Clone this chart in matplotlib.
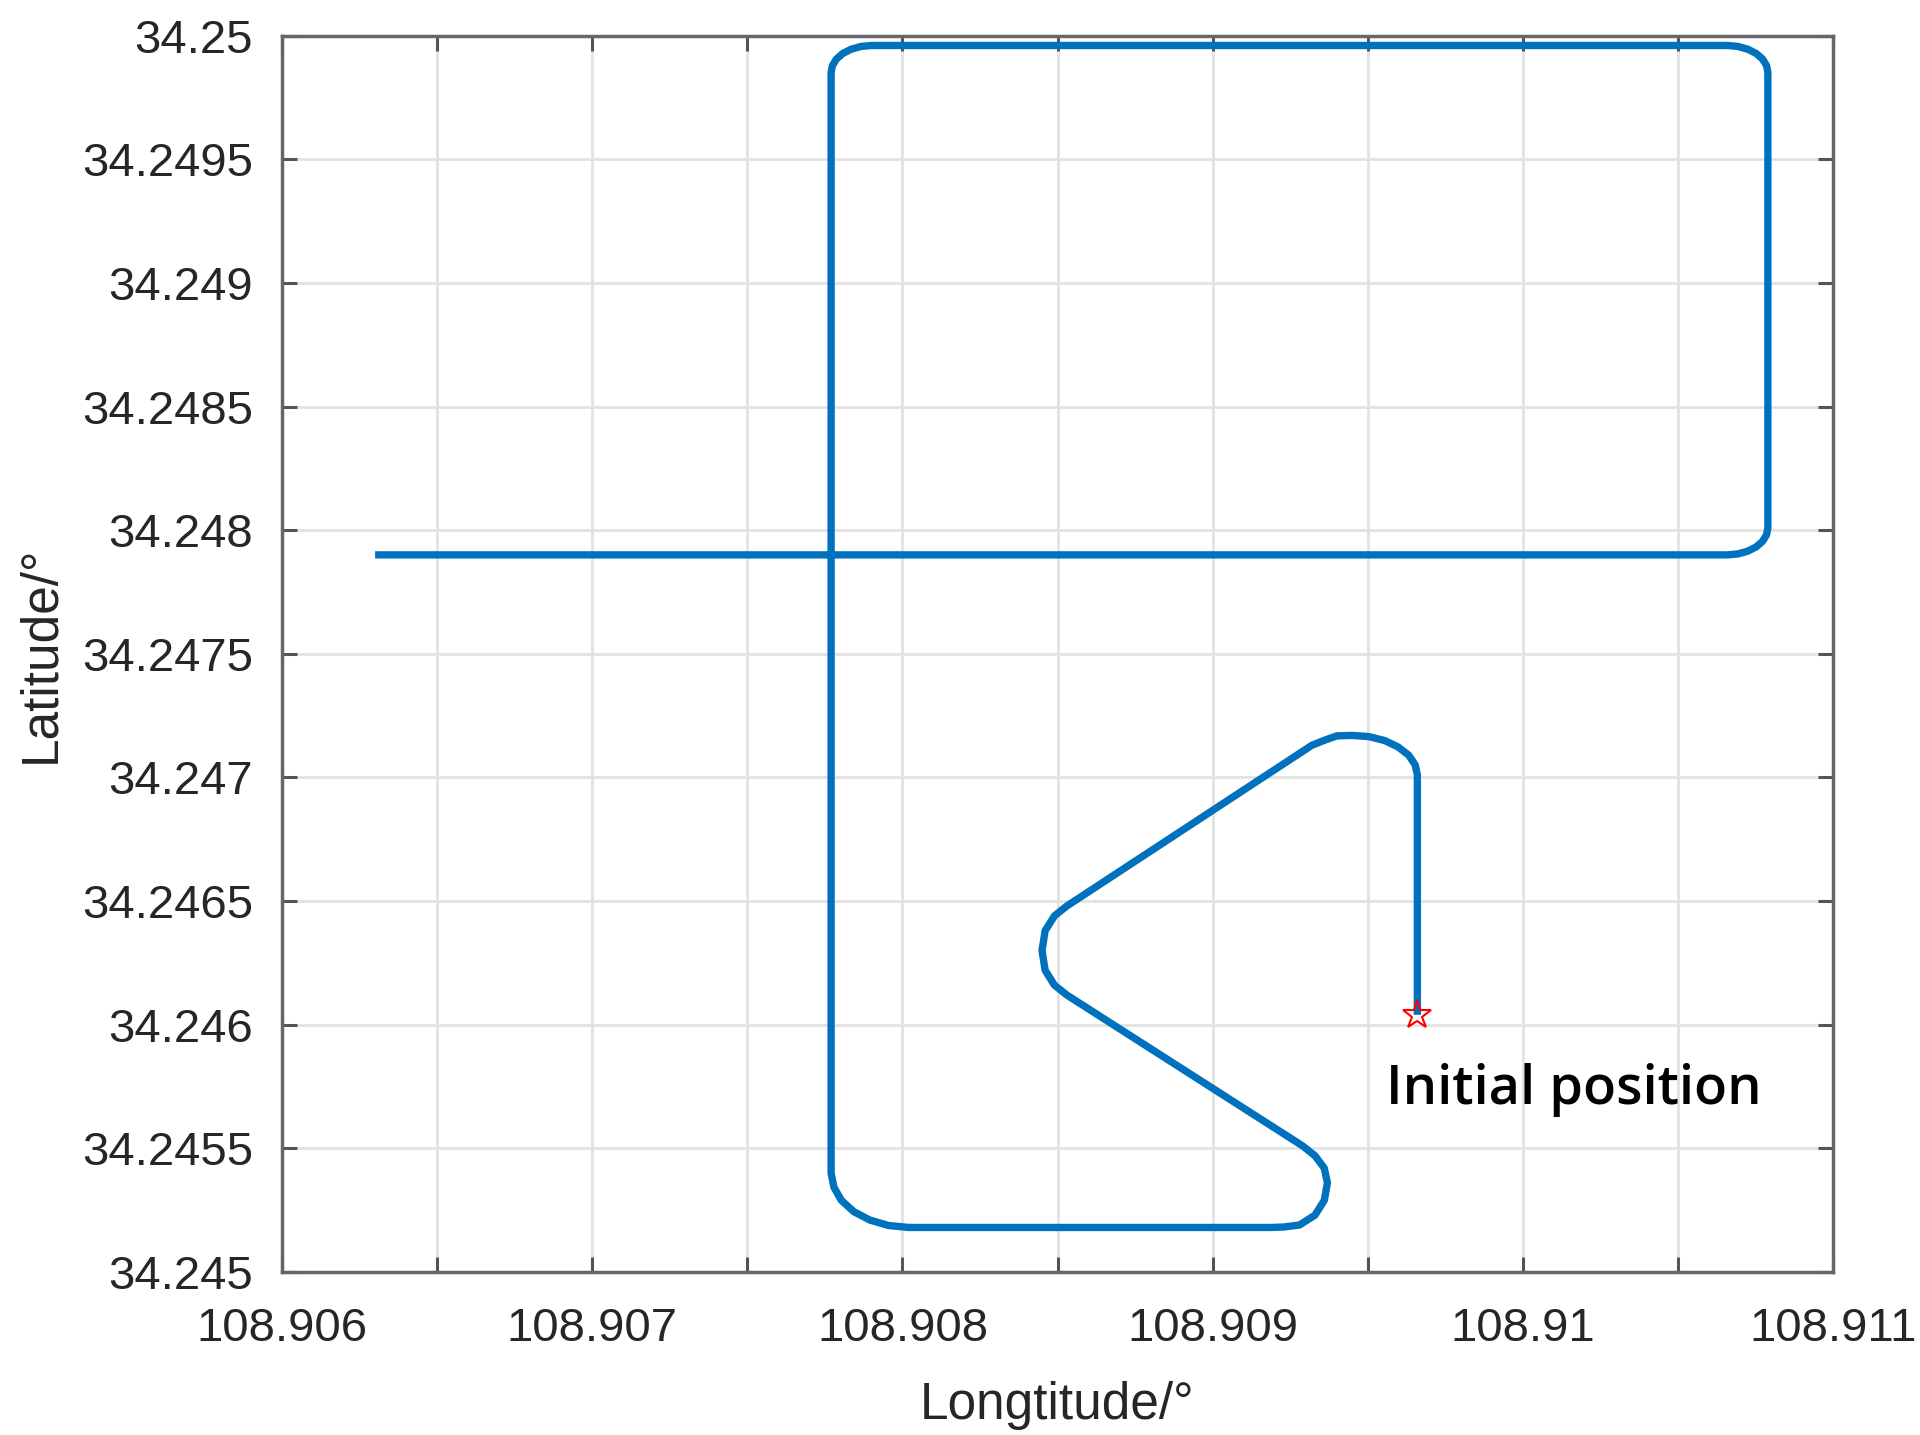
import numpy as np
import matplotlib
matplotlib.use("Agg")
import matplotlib.pyplot as plt
from matplotlib import font_manager

# trajectory (lon, lat in degrees)
lon = [108.90966, 108.90966, 108.909653, 108.909632, 108.909598, 108.909555, 108.909504, 108.90945,
       108.90940, 108.90936, 108.90932,
       108.90853, 108.90849, 108.90846, 108.90845, 108.90846, 108.90849, 108.90853,
       108.90929, 108.90933, 108.90936, 108.90937, 108.90936, 108.90933, 108.90928, 108.90923, 108.90919,
       108.90802, 108.907955, 108.907895, 108.907843, 108.907803, 108.907779, 108.90777,
       108.90777, 108.907774, 108.907787, 108.907808, 108.907835, 108.907866, 108.90790,
       108.91066, 108.910694, 108.910725, 108.910752, 108.910773, 108.910786, 108.91079,
       108.91079, 108.910786, 108.910773, 108.910752, 108.910725, 108.910694, 108.91066,
       108.90630]
lat = [34.24604, 34.24701, 34.247051, 34.24709, 34.247123, 34.247149, 34.247165, 34.24717,
       34.247168, 34.24715, 34.24713,
       34.24648, 34.24644, 34.24638, 34.24630, 34.24622, 34.24616, 34.24612,
       34.24551, 34.24547, 34.24542, 34.24536, 34.24529, 34.24523, 34.24519, 34.245182, 34.24518,
       34.24518, 34.245188, 34.245210, 34.245244, 34.245290, 34.245343, 34.24540,
       34.24985, 34.249878, 34.249905, 34.249928, 34.249945, 34.249956, 34.24996,
       34.24996, 34.249956, 34.249945, 34.249928, 34.249905, 34.249878, 34.24985,
       34.24801, 34.247982, 34.247955, 34.247932, 34.247915, 34.247904, 34.24790,
       34.24790]

start_lon, start_lat = 108.90966, 34.24604

xticks = np.arange(108.906, 108.91101, 0.0005)
xlabels = ['108.906', '', '108.907', '', '108.908', '', '108.909', '', '108.91', '', '108.911']
yticks = np.arange(34.245, 34.25001, 0.0005)
ylabels = ['34.245', '34.2455', '34.246', '34.2465', '34.247', '34.2475',
           '34.248', '34.2485', '34.249', '34.2495', '34.25']

plt.rcParams['font.family'] = ['Liberation Sans', 'DejaVu Sans']

# semibold face for the annotation if there is one
ann_font = dict(family=['Noto Sans', 'DejaVu Sans'], fontweight='bold', fontsize=37)
for f in font_manager.fontManager.ttflist:
    if f.name == 'Open Sans' and f.weight == 600:
        ann_font = dict(family=['Open Sans', 'DejaVu Sans'], fontweight=600, fontsize=39)
        break

fig = plt.figure(figsize=(19.2, 14.35), dpi=100)
ax = fig.add_axes([0.1469, 0.1136, 0.8078, 0.8616])

ax.plot(lon, lat, color='#0072BD', linewidth=5.3, solid_joinstyle='round',
        solid_capstyle='butt', zorder=3)
ax.plot(start_lon, start_lat, marker='*', markersize=21, markerfacecolor='none',
        markeredgecolor='red', markeredgewidth=1.5, linestyle='none', zorder=4)
ax.text(108.90956, 34.24568, 'Initial position', color='black', ha='left', va='baseline',
        **ann_font)

ax.set_xlim(108.906, 108.911)
ax.set_ylim(34.245, 34.25)
ax.set_xticks(xticks)
ax.set_xticklabels(xlabels)
ax.set_yticks(yticks)
ax.set_yticklabels(ylabels)

ax.grid(True, color='#e2e2e2', linewidth=2)
ax.set_axisbelow(True)
ax.tick_params(direction='in', length=11, width=2.2, color='#555555', labelsize=34,
               labelcolor='#262626', top=True, right=True)
ax.tick_params(axis='x', pad=25)
ax.tick_params(axis='y', pad=21)
for s in ax.spines.values():
    s.set_color('#666666')
    s.set_linewidth(2.5)

ax.set_xlabel('Longtitude/°', fontsize=37, color='#262626', labelpad=22)
ax.set_ylabel('Latitude/°', fontsize=37, color='#262626', labelpad=12)

fig.savefig('out.png', dpi=100)
